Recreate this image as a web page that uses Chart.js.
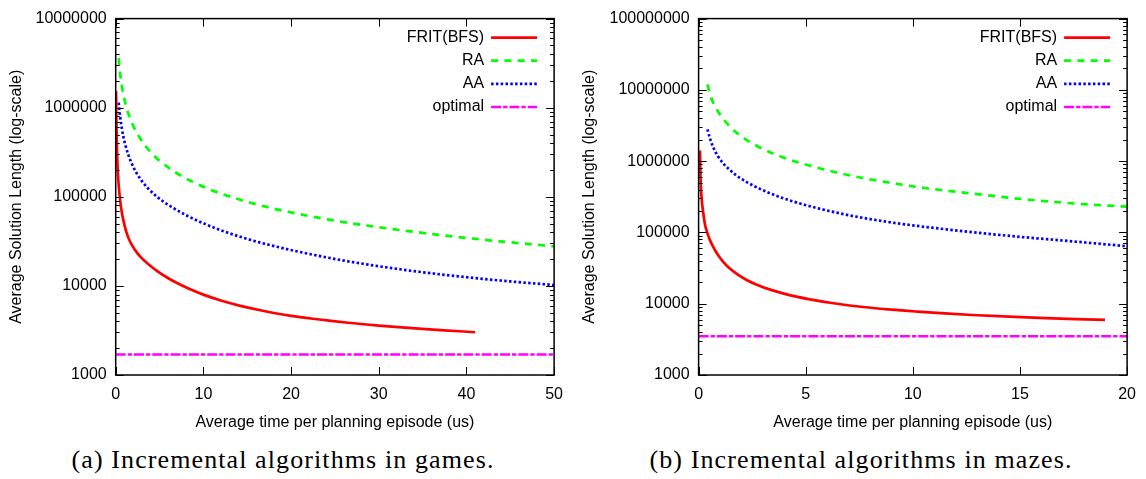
<!DOCTYPE html>
<html>
<head>
<meta charset="utf-8">
<script src="https://cdn.jsdelivr.net/npm/chart.js@4.4.0/dist/chart.umd.min.js"></script>
<style>
  body { margin: 0; background: #fff; width: 1146px; height: 479px; position: relative; overflow: hidden; }
  canvas { position: absolute; top: 0; }
  #games { left: 0; }
  #mazes { left: 573px; }
  .caption { position: absolute; top: 445px; width: 440px; font-family: "Liberation Serif", serif; font-size: 26px; line-height: 30px; letter-spacing: 1.1px; text-align: center; color: #000; white-space: nowrap; }
</style>
</head>
<body>
<canvas id="games" width="573" height="440"></canvas>
<canvas id="mazes" width="573" height="440"></canvas>
<div class="caption" style="left:63px">(a) Incremental algorithms in games.</div>
<div class="caption" style="left:641px">(b) Incremental algorithms in mazes.</div>
<script>
const SERIES = ["FRIT(BFS)", "RA", "AA", "optimal"];
const X_TITLE = "Average time per planning episode (us)";
const Y_TITLE = "Average Solution Length (log-scale)";

// (a) games
const gamesFritX = [0.04, 0.08, 0.13, 0.19, 0.26, 0.36, 0.52, 0.75, 1.09, 1.4, 1.84, 2.4, 2.97, 3.8, 4.86, 6, 7, 8.5, 10, 12, 14, 16.5, 20, 23, 26.5, 30, 33, 37, 41];
const gamesFritY = [1540000, 700000, 380000, 250000, 177000, 128000, 89000, 62500, 44500, 35500, 28800, 23800, 20500, 17260, 14380, 12190, 10770, 9160, 7980, 6850, 6050, 5330, 4610, 4220, 3860, 3590, 3400, 3195, 3020];
const gamesRaX = [0.34, 0.5, 0.71, 1.0, 1.28, 1.6, 2.03, 2.6, 3.35, 4.0, 4.86, 5.8, 6.74, 8.62, 10.88, 12, 14.7, 18.5, 24.8, 31, 37.3, 43.6, 50];
const gamesRaY = [3590000, 2460000, 1732000, 1235000, 969000, 778000, 616000, 483000, 376000, 316000, 261000, 220000, 190000, 150000, 119500, 108800, 89500, 71900, 54400, 44200, 37000, 31800, 27800];
const gamesAaX = [0.34, 0.5, 0.71, 0.9, 1.09, 1.4, 1.84, 2.4, 2.97, 3.7, 4.48, 5.4, 6.36, 8.25, 10.1, 12, 14, 16.4, 20.6, 26.8, 33.1, 39.4, 45, 50];
const gamesAaY = [1140000, 800000, 577000, 461000, 385000, 304000, 235000, 183000, 151000, 124000, 104500, 88900, 77000, 60600, 50000, 42100, 36100, 30800, 24500, 18660, 15050, 12690, 11220, 10240];
const gamesOptX = [0, 50];
const gamesOptY = [1700, 1700];
const gamesXTicks = [0, 10, 20, 30, 40, 50];
const gamesYTicks = [1000, 10000, 100000, 1000000, 10000000];

// (b) mazes
const mazesFritX = [0.065, 0.09, 0.12, 0.16, 0.21, 0.3, 0.4, 0.53, 0.7, 0.88, 1.14, 1.39, 1.8, 2.24, 2.8, 3.42, 4.2, 5.13, 6.3, 7.67, 9, 10.2, 11.5, 12.77, 14.5, 16.2, 17.6, 18.97];
const mazesFritY = [1410000, 600000, 370000, 260000, 195000, 128000, 100000, 78000, 61000, 49300, 39000, 32500, 26000, 21500, 18000, 15500, 13300, 11600, 10150, 9000, 8250, 7750, 7300, 6950, 6580, 6290, 6090, 5930];
const mazesRaX = [0.41, 0.62, 0.85, 1.2, 1.76, 2.3, 2.68, 3.6, 4.3, 5.15, 6.3, 7.67, 9, 10.2, 12.75, 15.3, 17.9, 20];
const mazesRaY = [11900000, 7300000, 5300000, 3750000, 2530000, 1935000, 1660000, 1236000, 1035000, 871000, 710000, 580000, 495000, 435000, 352000, 290000, 250000, 230000];
const mazesAaX = [0.41, 0.55, 0.68, 0.9, 1.14, 1.4, 1.76, 2.2, 2.68, 3.2, 3.76, 4.4, 5.15, 6.82, 8, 9.37, 11, 12.77, 15, 17, 18.5, 20];
const mazesAaY = [2800000, 2000000, 1574000, 1178000, 939000, 779000, 631000, 518000, 433000, 369000, 316000, 273000, 235000, 179000, 154000, 133000, 115500, 101000, 86700, 77000, 70300, 64000];
const mazesOptX = [0, 20];
const mazesOptY = [3500, 3500];
const mazesXTicks = [0, 5, 10, 15, 20];
const mazesYTicks = [1000, 10000, 100000, 1000000, 10000000, 100000000];

// gnuplot-like line styles
const STYLE = {
  "FRIT(BFS)": { color: "#ff0000", width: 2.7, dash: [] },
  "RA": { color: "#00ff00", width: 2.7, dash: [7, 6.3] },
  "AA": { color: "#0000ff", width: 2.7, dash: [2.5, 2.3] },
  "optimal": { color: "#ff00ff", width: 2.5, dash: [10, 2, 4.3, 2] }
};

Chart.defaults.font.family = "'Liberation Sans', Arial, sans-serif";
Chart.defaults.font.size = 16;
Chart.defaults.color = "#000";

function pts(xs, ys) {
  return xs.map((x, i) => ({ x: x, y: ys[i] }));
}

// Box, inward ticks (log minor ticks too) and the key, like gnuplot
const framePlugin = {
  id: "frame",
  afterDraw(chart) {
    const { ctx, chartArea: a, scales: { x, y } } = chart;
    ctx.save();
    ctx.strokeStyle = "#000";
    ctx.lineWidth = 1;
    ctx.beginPath();
    x.ticks.forEach(t => {
      const px = Math.round(x.getPixelForValue(t.value)) + 0.5;
      ctx.moveTo(px, a.bottom); ctx.lineTo(px, a.bottom - 8);
      ctx.moveTo(px, a.top); ctx.lineTo(px, a.top + 8);
    });
    for (let d = y.min; d < y.max * 1.01; d *= 10) {
      for (let m = 1; m < 10; m++) {
        const v = d * m;
        if (v > y.max * 1.01) break;
        const py = Math.round(y.getPixelForValue(v)) + 0.5;
        const len = m === 1 ? 8 : 4;
        ctx.moveTo(a.left, py); ctx.lineTo(a.left + len, py);
        ctx.moveTo(a.right, py); ctx.lineTo(a.right - len, py);
      }
    }
    ctx.stroke();
    ctx.lineWidth = 1.5;
    ctx.strokeRect(a.left, a.top, a.right - a.left, a.bottom - a.top);

    ctx.font = "16px 'Liberation Sans', Arial, sans-serif";
    ctx.textAlign = "right";
    ctx.textBaseline = "middle";
    ctx.fillStyle = "#000";
    chart.data.datasets.forEach((ds, i) => {
      const ly = a.top + 19 + i * 23.1;
      ctx.fillText(ds.label, a.right - 70, ly);
      ctx.beginPath();
      ctx.strokeStyle = ds.borderColor;
      ctx.lineWidth = ds.borderWidth;
      ctx.setLineDash(ds.borderDash);
      ctx.moveTo(a.right - 63, ly);
      ctx.lineTo(a.right - 17, ly);
      ctx.stroke();
      ctx.setLineDash([]);
    });
    ctx.restore();
  }
};

function buildChart(id, series, xTicks, yTicks, plotLeft, padRight) {
  return new Chart(document.getElementById(id), {
    type: "line",
    data: {
      datasets: SERIES.map((name, i) => ({
        label: name,
        data: series[i],
        borderColor: STYLE[name].color,
        borderWidth: STYLE[name].width,
        borderDash: STYLE[name].dash,
        pointRadius: 0,
        fill: false,
        cubicInterpolationMode: "monotone"
      }))
    },
    options: {
      responsive: false,
      animation: false,
      layout: { padding: { top: 15, right: padRight, bottom: 0, left: 0 } },
      plugins: { legend: { display: false }, tooltip: { enabled: false } },
      scales: {
        x: {
          type: "linear",
          min: xTicks[0],
          max: xTicks[xTicks.length - 1],
          afterBuildTicks: s => { s.ticks = xTicks.map(v => ({ value: v })); },
          grid: { display: false, drawTicks: false },
          border: { display: false },
          ticks: { padding: 10, autoSkip: false, maxRotation: 0 },
          title: { display: true, text: X_TITLE, padding: { top: 0, bottom: 7.8 } },
          afterFit: s => { s.height = 65; }
        },
        y: {
          type: "logarithmic",
          min: yTicks[0],
          max: yTicks[yTicks.length - 1],
          afterBuildTicks: s => { s.ticks = yTicks.map(v => ({ value: v })); },
          grid: { display: false, drawTicks: false },
          border: { display: false },
          ticks: { padding: 9, autoSkip: false, callback: v => String(v) },
          title: { display: true, text: Y_TITLE, padding: { top: 7.4, bottom: 0 } },
          afterFit: s => { s.width = plotLeft; }
        }
      }
    },
    plugins: [framePlugin]
  });
}

buildChart("games", [
  pts(gamesFritX, gamesFritY),
  pts(gamesRaX, gamesRaY),
  pts(gamesAaX, gamesAaY),
  pts(gamesOptX, gamesOptY)
], gamesXTicks, gamesYTicks, 115.7, 15);

buildChart("mazes", [
  pts(mazesFritX, mazesFritY),
  pts(mazesRaX, mazesRaY),
  pts(mazesAaX, mazesAaY),
  pts(mazesOptX, mazesOptY)
], mazesXTicks, mazesYTicks, 125.6, 14.3);
</script>
</body>
</html>
